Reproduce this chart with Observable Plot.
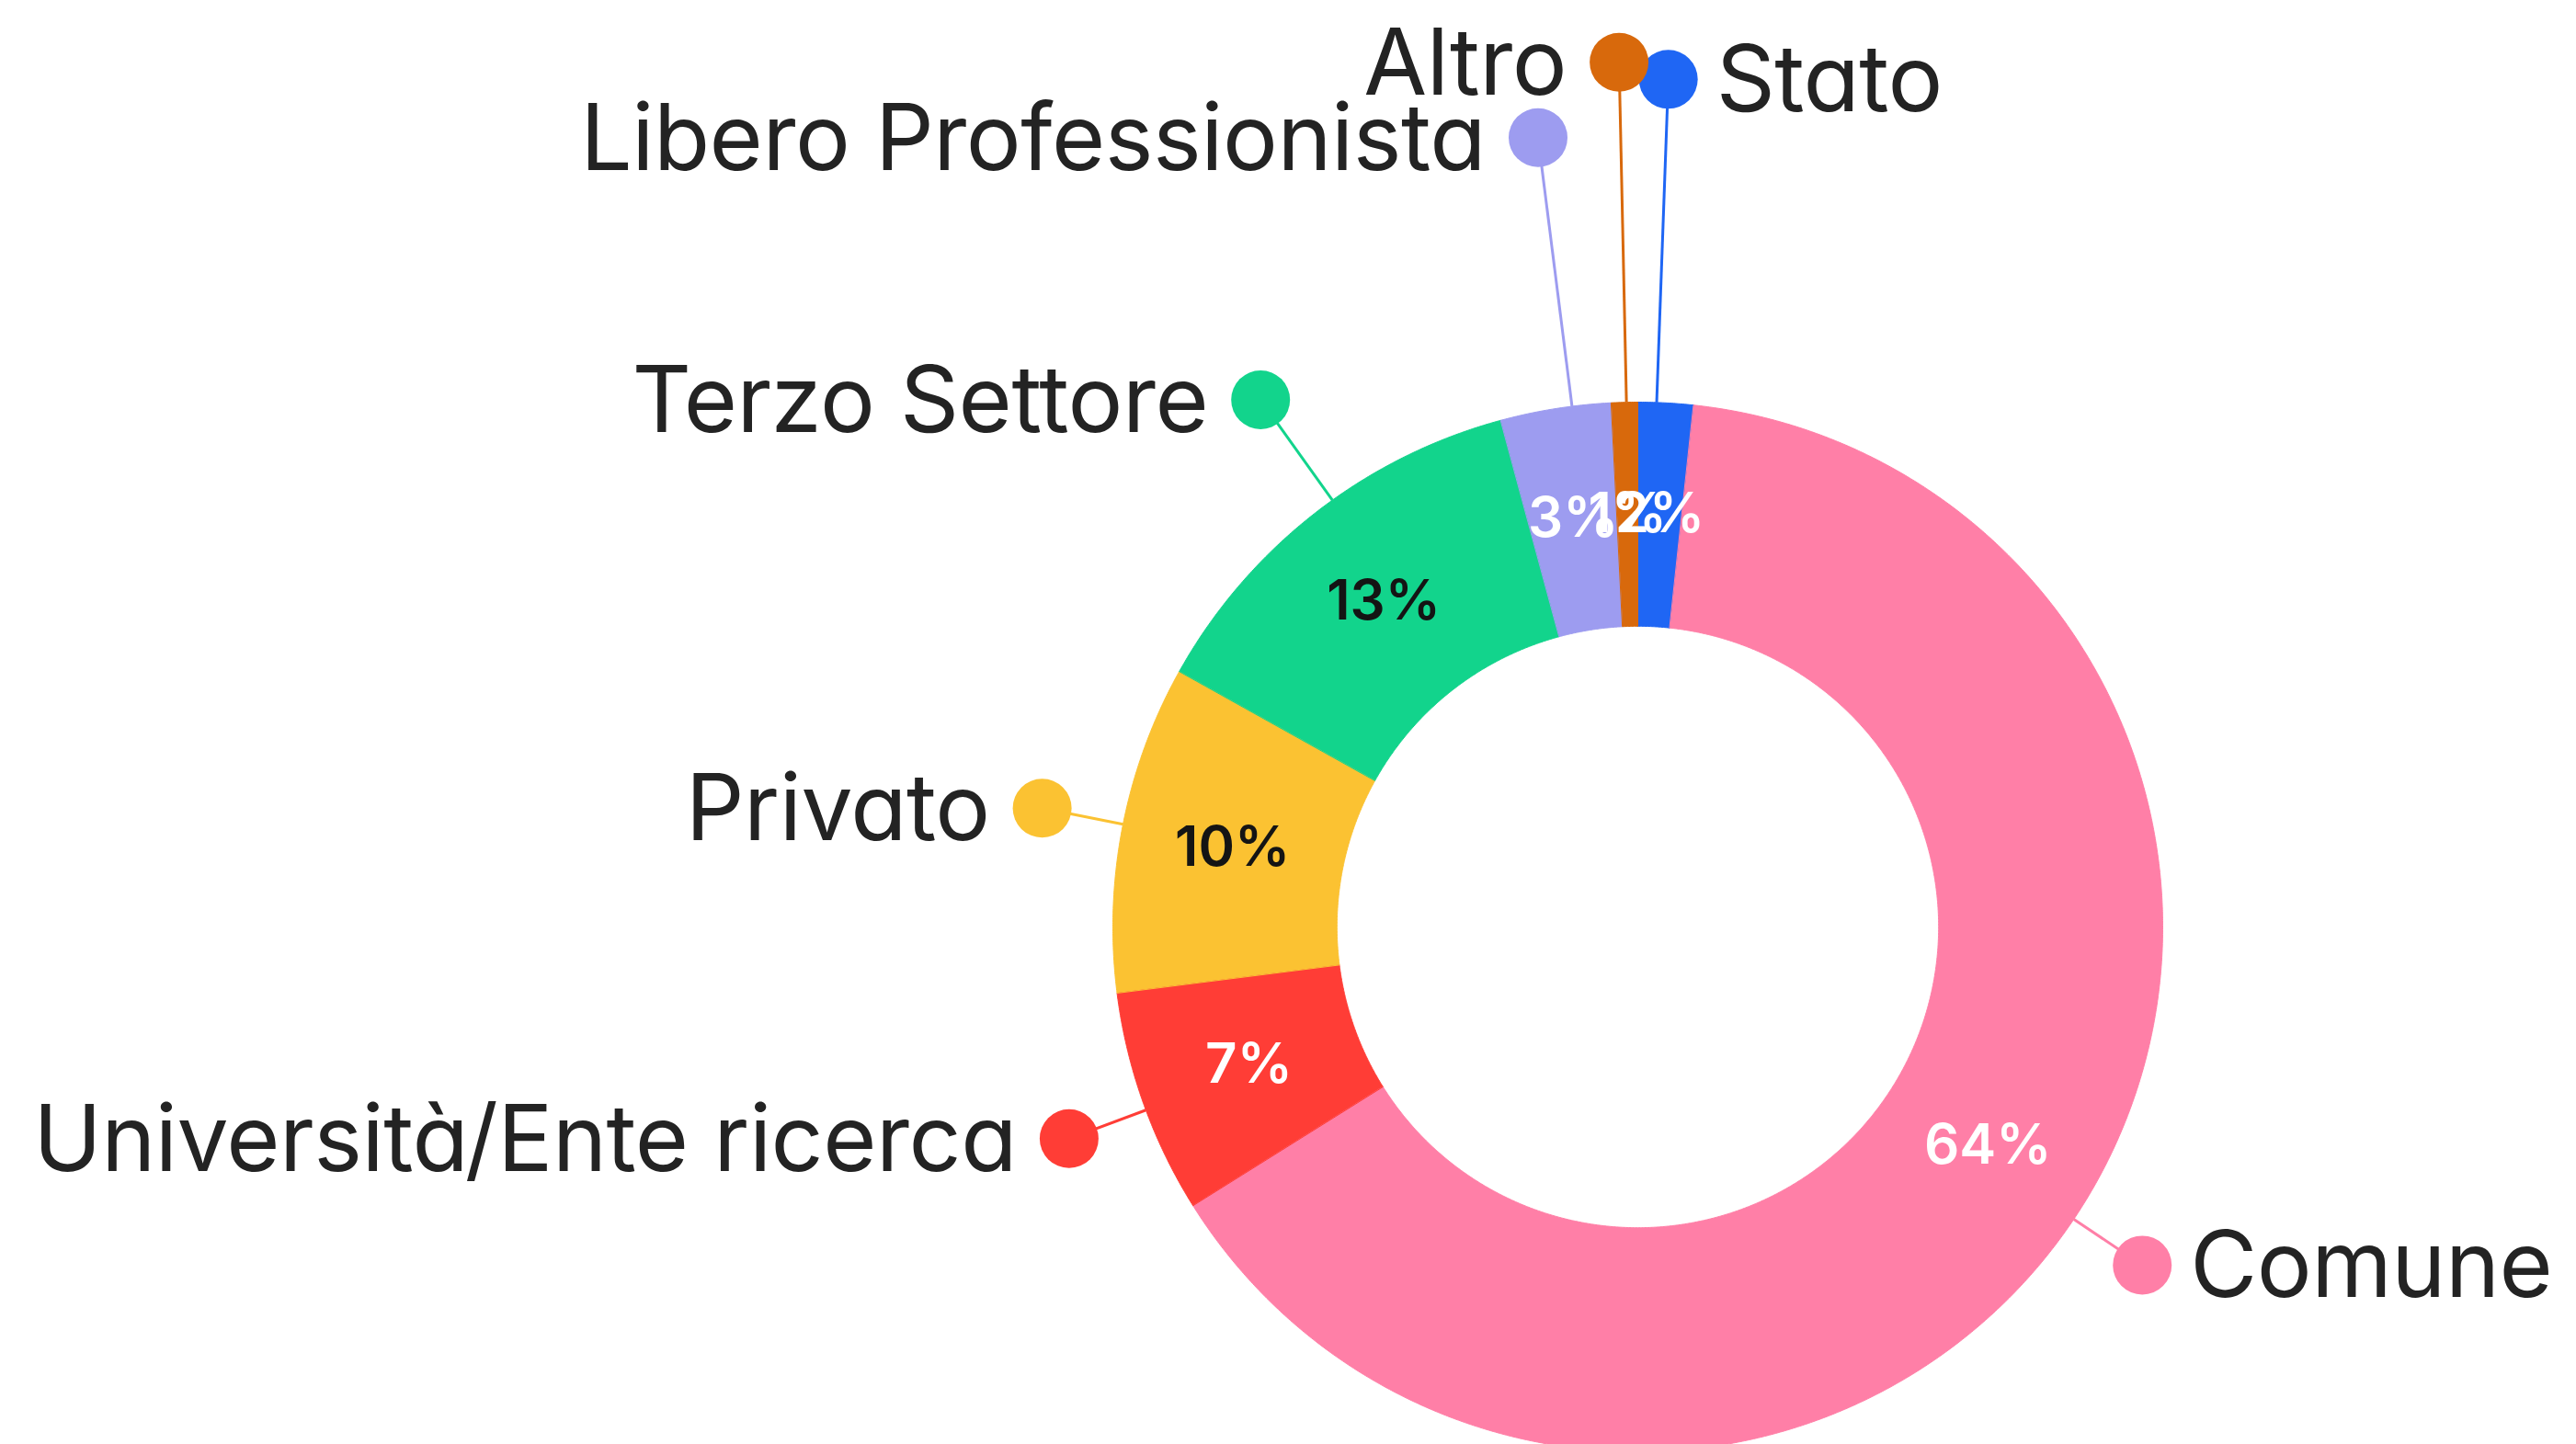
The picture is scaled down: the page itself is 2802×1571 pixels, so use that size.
<!DOCTYPE html>
<html>
<head>
<meta charset="utf-8">
<script src="https://cdn.jsdelivr.net/npm/d3@7"></script>
<script src="https://cdn.jsdelivr.net/npm/@observablehq/plot@0.6"></script>
<style>
  html, body { margin: 0; padding: 0; background: #ffffff; overflow: hidden; font-feature-settings: "cv11" 1; }
  #chart svg { display: block; font-feature-settings: "cv11" 1; }
  #chart svg text { font-feature-settings: "cv11" 1; }
  #chart svg g.cat-label text { letter-spacing: -0.5px; }
</style>
</head>
<body>
<div id="chart"></div>
<script>
// ---- data ----
const categories = ["Stato", "Comune", "Università/Ente ricerca", "Privato", "Terzo Settore", "Libero Professionista", "Altro"];
const shares = [1.7, 64.4, 6.9, 10.1, 12.7, 3.4, 0.8];

// ---- style ----
const sliceColors = ["#1f66f4", "#ff7fa7", "#ff3d36", "#fbc232", "#12d48c", "#9d9cf0", "#d8690c"];
const valueTextColors = ["#ffffff", "#ffffff", "#ffffff", "#141414", "#141414", "#ffffff", "#ffffff"];
// label leader layout: length (multiples of the outer radius) and small turn (degrees) off the slice middle
const labelReach = [1.616, 1.157, 1.156, 1.157, 1.235, 1.516, 1.648];
const labelTurn = [-1.0, 1.8, -0.8, 0.3, 2.4, 1.8, 0.2];

// ---- layout of the frame ----
const W = 2802, H = 1571;
const RADIUS_PX = 571, CENTER_X = 1781, CENTER_Y = 1008;
const INNER = 0.573;
const MID = (1 + INNER) / 2;

const rows = categories.map((c, i) => ({category: c, share: shares[i], i}));
const arcs = d3.pie().sort(null).value(d => d.share).startAngle(0).endAngle(2 * Math.PI)(rows);

// slice outlines
const ring = [];
for (const a of arcs) {
  const span = a.endAngle - a.startAngle;
  const n = Math.max(2, Math.ceil(span / (Math.PI / 720)));
  for (let k = 0; k <= n; k++) {
    const t = a.startAngle + span * k / n;
    ring.push({category: a.data.category, x: Math.sin(t), y: Math.cos(t)});
  }
  for (let k = n; k >= 0; k--) {
    const t = a.startAngle + span * k / n;
    ring.push({category: a.data.category, x: INNER * Math.sin(t), y: INNER * Math.cos(t)});
  }
}

// label anchors
const labels = arcs.map(a => {
  const mid = (a.startAngle + a.endAngle) / 2;
  const i = a.data.i;
  const t = mid + labelTurn[i] * Math.PI / 180;
  const reach = labelReach[i];
  return {
    category: a.data.category,
    pct: Math.round(a.data.share) + "%",
    x0: Math.sin(t), y0: Math.cos(t),
    x1: reach * Math.sin(t), y1: reach * Math.cos(t),
    xm: MID * Math.sin(mid), ym: MID * Math.cos(mid),
    right: Math.sin(t) >= 0,
    valueColor: valueTextColors[i]
  };
});

const xDomain = [-CENTER_X / RADIUS_PX, (W - CENTER_X) / RADIUS_PX];
const yDomain = [-(H - CENTER_Y) / RADIUS_PX, CENTER_Y / RADIUS_PX];

const chart = Plot.plot({
  width: W,
  height: H,
  margin: 0,
  x: {domain: xDomain, axis: null},
  y: {domain: yDomain, axis: null},
  color: {domain: categories, range: sliceColors},
  style: {fontFamily: "Inter, 'Noto Sans', sans-serif", background: "#ffffff", overflow: "hidden"},
  marks: [
    Plot.line(ring, {x: "x", y: "y", z: "category", fill: "category", stroke: "category", strokeWidth: 1, curve: "linear-closed"}),
    Plot.link(labels, {x1: "x0", y1: "y0", x2: "x1", y2: "y1", stroke: "category", strokeWidth: 3}),
    Plot.dot(labels, {x: "x1", y: "y1", r: 32, fill: "category"}),
    Plot.text(labels.filter(d => d.right), {x: "x1", y: "y1", text: "category", textAnchor: "start", dx: 52, dy: 3, fontSize: 100, fill: "#232323", fontWeight: 400, className: "cat-label"}),
    Plot.text(labels.filter(d => !d.right), {x: "x1", y: "y1", text: "category", textAnchor: "end", dx: -57, dy: 3, fontSize: 100, fill: "#232323", fontWeight: 400, className: "cat-label"}),
    Plot.text(labels.filter(d => d.valueColor === "#ffffff"), {x: "xm", y: "ym", text: "pct", fontSize: 60, fontWeight: 600, fill: "#ffffff"}),
    Plot.text(labels.filter(d => d.valueColor !== "#ffffff"), {x: "xm", y: "ym", text: "pct", fontSize: 60, fontWeight: 600, fill: "#141414"})
  ]
});
document.getElementById("chart").appendChild(chart);
</script>
</body>
</html>
